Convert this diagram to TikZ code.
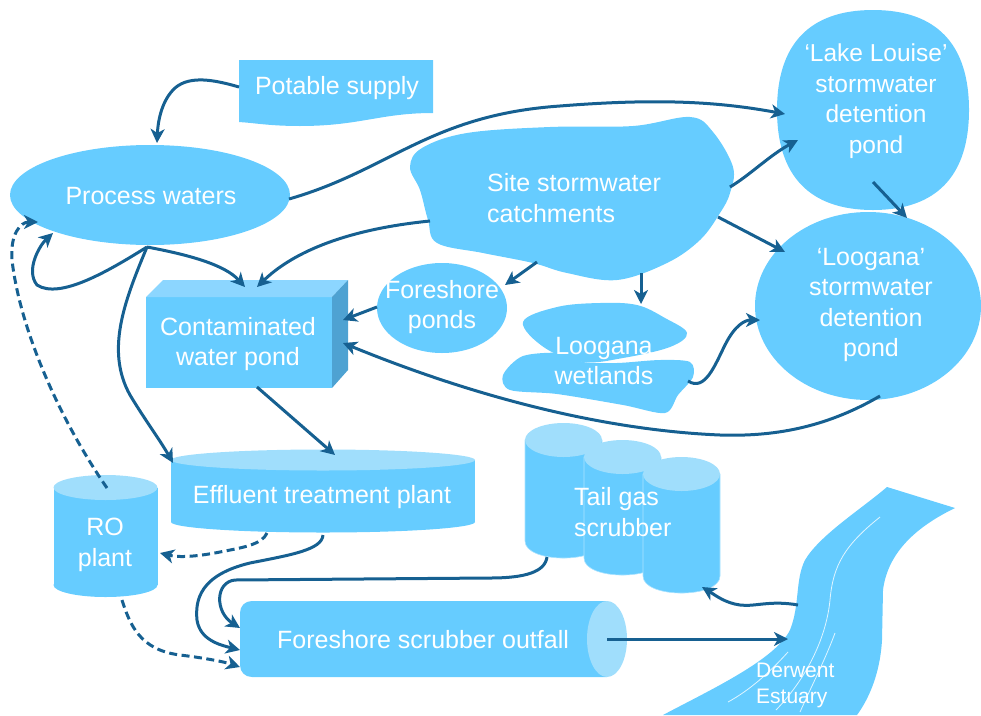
\documentclass[tikz,border=0pt]{standalone}
\usepackage{fontspec}
\setmainfont{Liberation Sans}
\usetikzlibrary{arrows.meta,shapes.geometric}
\definecolor{fillc}{RGB}{102,204,255}
\definecolor{lightc}{RGB}{160,222,252}
\definecolor{topc}{RGB}{140,214,255}
\definecolor{sidec}{RGB}{78,162,210}
\definecolor{arrowc}{RGB}{22,96,145}
% rounded pond: centre x, centre y, half width, half height
\newcommand{\rpond}[4]{%
  \fill[fillc] ({#1+#3},{#2})
    .. controls ({#1+#3},{#2+0.66*#4}) and ({#1+0.66*#3},{#2+#4}) .. ({#1},{#2+#4})
    .. controls ({#1-0.66*#3},{#2+#4}) and ({#1-#3},{#2+0.66*#4}) .. ({#1-#3},{#2})
    .. controls ({#1-#3},{#2-0.66*#4}) and ({#1-0.66*#3},{#2-#4}) .. ({#1},{#2-#4})
    .. controls ({#1+0.66*#3},{#2-#4}) and ({#1+#3},{#2-0.66*#4}) .. cycle;}
\begin{document}
\begin{tikzpicture}[x=1pt,y=-1pt,
  lbl/.style={text=white,font=\fontsize{25}{30.5}\selectfont,align=center,inner sep=0},
  smalllbl/.style={text=white,font=\fontsize{21}{26}\selectfont,align=left,inner sep=0},
  pondshape/.style={ellipse,fill=fillc,inner sep=0},
  flow/.style={draw=arrowc,line width=3pt,-{Stealth[length=14pt,width=14pt,inset=4pt]}},
  dflow/.style={flow,dash pattern=on 8pt off 4.5pt},
  rline/.style={draw=white!80!fillc,line width=0.8pt}]
\useasboundingbox (0,0) rectangle (981,715);

% ---------- Potable supply ----------
\fill[fillc] (239,60) -- (433,60) -- (433,113)
  .. controls (380,113) and (360,126) .. (300,126)
  .. controls (270,126) and (255,123) .. (239,122) -- cycle;
\node[lbl] (ps) at (337,88) {Potable supply};

% ---------- Process waters ----------
\node[pondshape,minimum width=280,minimum height=100] (pw) at (150,195) {};
\node[lbl] (pwt) at (151,196) {Process waters};

% ---------- Lake Louise ----------
\rpond{873}{110}{96}{100}
\coordinate (ll) at (873,110);
\node[lbl,font=\fontsize{24.5}{30.5}\selectfont] (llt) at (876,101) {‘Lake Louise’\\stormwater\\detention\\pond};

% ---------- Loogana pond ----------
\node[pondshape,minimum width=226,minimum height=188] (lp) at (868,306) {};
\node[lbl] (lpt) at (871,305) {‘Loogana’\\stormwater\\detention\\pond};

% ---------- Site stormwater catchments ----------
\fill[fillc] plot[smooth cycle,tension=0.6] coordinates {
  (410,167) (422,148) (467,133) (550,127) (633,126) (690,117) (713,132)
  (733,167) (730,193) (720,213) (700,240) (667,263) (617,280) (567,273)
  (533,263) (483,253) (437,243) (428,220) (420,190)};
\node[lbl,align=left,anchor=west] (ssc) at (487,198) {Site stormwater\\catchments};

% ---------- Foreshore ponds ----------
\node[pondshape,minimum width=130,minimum height=90] (fp) at (442,308) {};
\node[lbl] (fpt) at (442,307) {Foreshore\\ponds};

% ---------- Loogana wetlands ----------
\fill[fillc] plot[smooth cycle,tension=0.6] coordinates {
  (523,322) (557,307) (600,303) (637,305) (665,318) (687,333) (670,347)
  (623,358) (583,362) (545,348)};
\fill[fillc] plot[smooth cycle,tension=0.5] coordinates {
  (503,375) (523,356) (563,353) (583,362) (617,363) (660,360) (690,362)
  (693,377) (678,395) (665,413) (623,405) (557,394) (510,390)};
\node[lbl] (lw) at (604,361) {Loogana\\wetlands};

% ---------- Contaminated water pond ----------
\fill[fillc] (146,297) rectangle (332,388);
\fill[topc] (146,297) -- (163,280) -- (348,280) -- (332,297) -- cycle;
\fill[sidec] (332,297) -- (348,280) -- (348,370) -- (332,388) -- cycle;
\node[lbl] (cwp) at (238,344) {Contaminated\\water pond};

% ---------- Effluent treatment plant ----------
\fill[fillc] (171,460) rectangle (475,522);
\fill[fillc] (323,522) ellipse [x radius=152,y radius=10.5];
\fill[lightc] (323,460) ellipse [x radius=152,y radius=10.5];
\node[lbl] (etp) at (322,497) {Effluent treatment plant};

% ---------- RO plant ----------
\fill[fillc] (53.5,487.5) rectangle (157.5,585);
\fill[fillc] (105.5,585) ellipse [x radius=52,y radius=12];
\fill[lightc] (105.5,487.5) ellipse [x radius=52,y radius=12.5];
\node[lbl] (ro) at (105,545) {RO\\plant};

% ---------- Tail gas scrubber ----------
\foreach \cx/\cy/\by in {563.5/440/541, 622.5/457/558, 681.5/474/576}{
  \fill[fillc,draw=white!45!fillc,line width=0.6pt] (\cx-38.5,\cy) -- (\cx-38.5,\by)
     .. controls (\cx-38.5,\by+22.7) and (\cx+38.5,\by+22.7) .. (\cx+38.5,\by)
     -- (\cx+38.5,\cy) -- cycle;
  \fill[lightc] (\cx,\cy) ellipse [x radius=38.5,y radius=17];
}
\node[lbl,align=left,anchor=west] (tgs) at (574,512) {Tail gas\\scrubber};

% ---------- Foreshore scrubber outfall ----------
\fill[fillc] (607,601) -- (252,601) .. controls (245,601) and (240,606) .. (240,613)
  -- (240,665) .. controls (240,672) and (245,677) .. (252,677) -- (607,677) -- cycle;
\fill[lightc] (607,639) ellipse [x radius=20,y radius=38];
\node[lbl] (fso) at (423,640) {Foreshore scrubber outfall};

% ---------- Derwent Estuary ----------
\fill[fillc] (887,487) -- (955,508)
  .. controls (920,525) and (888,550) .. (883,590) -- (882,640)
  .. controls (880,675) and (868,700) .. (857,715) -- (663,715)
  .. controls (710,690) and (775,660) .. (790,630)
  .. controls (800,605) and (795,580) .. (805,560)
  .. controls (820,535) and (860,510) .. (887,487) -- cycle;
\draw[rline] (880,517) .. controls (845,545) and (833,565) .. (830,600)
  .. controls (826,640) and (805,680) .. (776,710);
\draw[rline] (835,633) .. controls (825,660) and (812,685) .. (800,712);
\draw[rline] (788,652) .. controls (770,672) and (750,690) .. (728,702);
\node[smalllbl,anchor=west] (de) at (756,685) {Derwent\\Estuary};

% ---------- connector end points ----------
\coordinate (ps-o) at (239,87);
\coordinate (pw-i1) at (157,143);
\coordinate (pw-o1) at (289,199);
\coordinate (ll-i1) at (785,114);
\coordinate (pw-b) at (147,247);
\coordinate (cwp-i1) at (245,287);
\coordinate (cwp-i2) at (257,287);
\coordinate (pw-i2) at (53,233);
\coordinate (pw-i3) at (38,222);
\coordinate (etp-i1) at (173,463);
\coordinate (ssc-o1) at (430,221);
\coordinate (cwp-o) at (257,387);
\coordinate (etp-i2) at (335,455);
\coordinate (fp-o) at (377,307);
\coordinate (cwp-i3) at (343,320);
\coordinate (lp-o) at (880,396);
\coordinate (cwp-i4) at (343,343);
\coordinate (ssc-o2) at (730,187);
\coordinate (ll-i2) at (798,140);
\coordinate (ssc-o3) at (718,217);
\coordinate (lp-i1) at (785,252);
\coordinate (ssc-o4) at (537,262);
\coordinate (fp-i) at (505,285);
\coordinate (ssc-o5) at (641,273);
\coordinate (lw-i) at (641,304);
\coordinate (ll-o) at (873,182);
\coordinate (lp-i2) at (907,218);
\coordinate (lw-o) at (688,381);
\coordinate (lp-i3) at (760,320);
\coordinate (ro-t) at (107,488);
\coordinate (ro-b) at (122,600);
\coordinate (etp-o1) at (267,533);
\coordinate (ro-i) at (160,553);
\coordinate (etp-o2) at (323,535);
\coordinate (fso-i1) at (240,650);
\coordinate (tgs-o) at (547,557);
\coordinate (fso-i2) at (240,628);
\coordinate (fso-i3) at (240,667);
\coordinate (fso-o) at (607,639);
\coordinate (de-i) at (788,639);
\coordinate (de-o) at (798,605);
\coordinate (tgs-i) at (702,587);

% ---------- connectors ----------
\draw[flow] (ps-o) .. controls (215,80) and (190,75) .. (175,88)
  .. controls (162,100) and (158,120) .. (pw-i1);
\draw[flow] (pw-o1) .. controls (390,170) and (430,115) .. (560,106)
  .. controls (660,98) and (720,102) .. (ll-i1);
\draw[flow] (ssc-o1) .. controls (340,230) and (290,255) .. (cwp-i2);
\draw[flow] (pw-b) .. controls (190,255) and (225,265) .. (cwp-i1);
\draw[flow] (pw-b) .. controls (110,270) and (60,300) .. (37,285)
  .. controls (25,270) and (40,245) .. (pw-i2);
\draw[flow] (pw-b) .. controls (125,300) and (105,350) .. (130,395)
  .. controls (145,420) and (160,440) .. (etp-i1);
\draw[dflow] (ro-t) .. controls (60,420) and (20,330) .. (12,260)
  .. controls (10,235) and (20,222) .. (pw-i3);
\draw[flow] (cwp-o) -- (etp-i2);
\draw[flow] (fp-o) -- (cwp-i3);
\draw[flow] (lp-o) .. controls (830,425) and (780,437) .. (720,435)
  .. controls (600,430) and (470,395) .. (cwp-i4);
\draw[flow] (ssc-o2) .. controls (750,175) and (770,155) .. (ll-i2);
\draw[flow] (ssc-o3) -- (lp-i1);
\draw[flow] (ssc-o4) -- (fp-i);
\draw[flow] (ssc-o5) -- (lw-i);
\draw[flow] (ll-o) -- (lp-i2);
\draw[flow] (lw-o) .. controls (705,392) and (715,365) .. (725,345)
  .. controls (735,325) and (745,320) .. (lp-i3);
\draw[dflow] (etp-o1) .. controls (262,545) and (240,548) .. (220,552)
  .. controls (200,556) and (180,558) .. (ro-i);
\draw[flow] (etp-o2) .. controls (322,550) and (290,555) .. (250,563)
  .. controls (200,575) and (195,600) .. (197,620)
  .. controls (200,640) and (220,645) .. (fso-i1);
\draw[flow] (tgs-o) .. controls (545,572) and (525,578) .. (490,578)
  -- (235,580) .. controls (215,582) and (215,612) .. (fso-i2);
\draw[dflow] (ro-b) .. controls (130,625) and (140,650) .. (180,655)
  .. controls (205,658) and (225,662) .. (fso-i3);
\draw[flow] (fso-o) -- (de-i);
\draw[flow] (de-o) .. controls (770,600) and (755,607) .. (740,605)
  .. controls (725,603) and (715,595) .. (tgs-i);
\end{tikzpicture}
\end{document}
